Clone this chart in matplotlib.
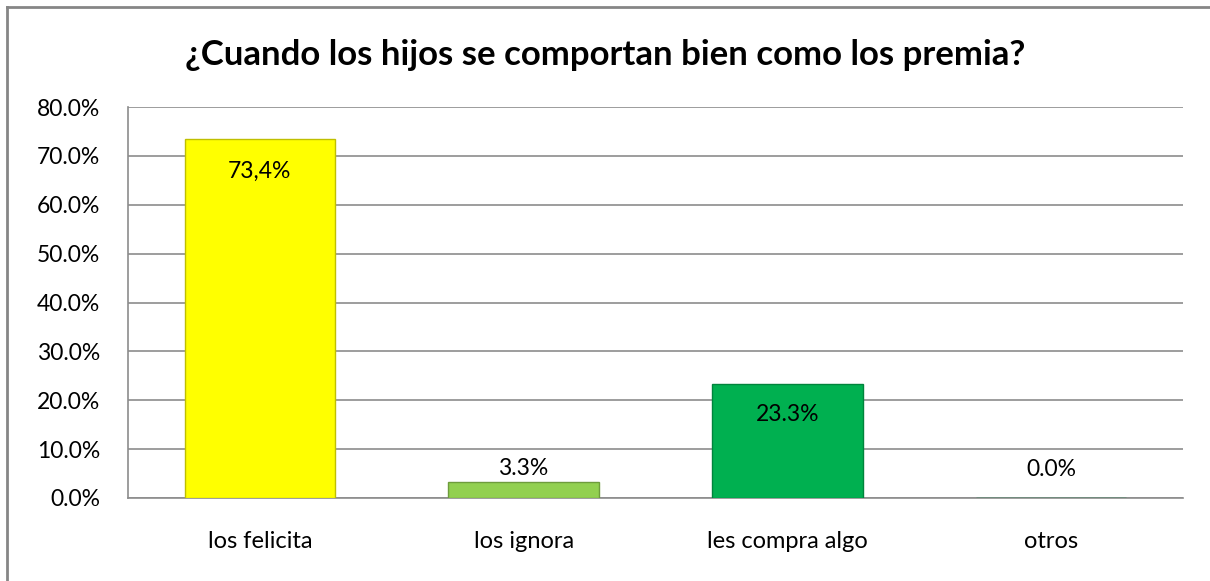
import matplotlib.pyplot as plt
from matplotlib.lines import Line2D
from matplotlib.ticker import FuncFormatter

categorias = ['los felicita', 'los ignora', 'les compra algo', 'otros']
valores = [73.4, 3.3, 23.3, 0.0]
etiquetas = ['73,4%', '3.3%', '23.3%', '0.0%']
colores = ['#FFFF00', '#92D050', '#00B050', '#00B050']
bordes = ['#BFBF00', '#6E9C3C', '#00843C', '#00843C']

plt.rcParams['font.family'] = ['Lato', 'DejaVu Sans']

W, H = 1210, 581
fig = plt.figure(figsize=(W / 100, H / 100), dpi=100)

# outer chart border (only top and left are inside the picture)
fig.lines.append(Line2D([7 / W, 1.0], [1 - 7 / H, 1 - 7 / H], transform=fig.transFigure,
                        color='#868686', linewidth=2))
fig.lines.append(Line2D([7 / W, 7 / W], [0.0, 1 - 7 / H], transform=fig.transFigure,
                        color='#868686', linewidth=2))

ax = fig.add_axes([128 / W, 1 - 498 / H, (1183 - 128) / W, (498 - 107) / H])

x = range(len(categorias))
ax.bar(x, valores, width=0.57, color=colores, edgecolor=bordes, linewidth=1, zorder=3)

ax.set_xlim(-0.5, 3.5)
ax.set_ylim(0, 80)
ax.set_yticks(range(0, 81, 10))
ax.yaxis.set_major_formatter(FuncFormatter(lambda v, p: f'{v:.1f}%'))
ax.set_xticks(list(x))
ax.set_xticklabels(categorias)
ax.tick_params(axis='both', length=0, colors='black')
ax.tick_params(axis='y', pad=20, labelsize=16.5)
ax.tick_params(axis='x', pad=24, labelsize=17)

ax.grid(axis='y', color='#8C8C8C', linewidth=1.2, zorder=0)
for s in ['top', 'right']:
    ax.spines[s].set_visible(False)
ax.spines['left'].set_color('#8C8C8C')
ax.spines['bottom'].set_color('#8C8C8C')
ax.spines['left'].set_linewidth(1.2)
ax.spines['bottom'].set_linewidth(1.2)

# data labels
ax.text(0, valores[0] - 6.5, etiquetas[0], ha='center', va='center', fontsize=16.5, zorder=4)
ax.text(1, valores[1] + 0.6, etiquetas[1], ha='center', va='bottom', fontsize=16.5, zorder=4)
ax.text(2, valores[2] - 6.2, etiquetas[2], ha='center', va='center', fontsize=16.5, zorder=4)
ax.text(3, valores[3] + 5.8, etiquetas[3], ha='center', va='center', fontsize=16.5, zorder=4)

fig.text(0.5, 1 - 55 / H, '¿Cuando los hijos se comportan bien como los premia?',
         ha='center', va='center', fontsize=25, fontweight='bold')

fig.savefig('out.png', dpi=100)
